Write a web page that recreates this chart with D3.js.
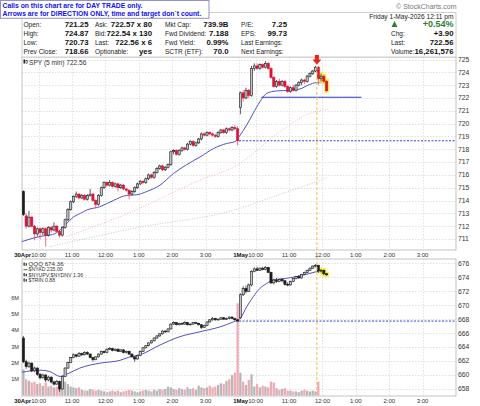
<!DOCTYPE html>
<html>
<head>
<meta charset="utf-8">
<script src="https://cdn.jsdelivr.net/npm/d3@7"></script>
<style>
  body { margin: 0; background: #fff; }
  svg text { font-family: "Liberation Sans", Arial, sans-serif; }
</style>
</head>
<body>
<svg id="chart" width="480" height="406"></svg>
<script>
// ---- data ----
const dayLabels = ['30Apr', '1May'];
const hourLabels = ['10:00', '11:00', '12:00', '1:00', '2:00', '3:00'];
const spyTicks = [711, 712, 713, 714, 715, 716, 717, 718, 719, 720, 721, 722, 723, 724, 725];
const qqqTicks = [658, 660, 662, 664, 666, 668, 670, 672, 674, 676];
const volTicks = [1, 2, 3, 4, 5, 6];

// SPY 5 min bars [open, high, low, close]
const spyDay1 = [
  [714.7, 714.8, 712.8, 712.9], [712.8, 713.0, 711.8, 712.0], [712.0, 713.2, 711.9, 712.7], [712.7, 712.8, 711.9, 712.0],
  [712.0, 712.1, 710.9, 711.4], [711.4, 711.9, 711.2, 711.8], [711.8, 711.9, 711.0, 711.5], [711.5, 711.9, 711.3, 711.8],
  [711.8, 711.9, 710.4, 711.3], [711.3, 712.0, 711.2, 711.9], [711.9, 712.0, 711.5, 711.7], [711.7, 712.3, 711.6, 712.0],
  [712.0, 712.1, 711.5, 711.6], [711.6, 711.7, 711.1, 711.3], [711.3, 712.0, 711.2, 711.9], [711.9, 712.6, 711.8, 712.5],
  [712.5, 713.4, 712.4, 713.3], [713.3, 714.0, 713.2, 713.9], [713.9, 714.4, 713.8, 714.3], [714.3, 714.7, 714.2, 714.5],
  [714.5, 714.6, 714.1, 714.2], [714.2, 714.5, 714.1, 714.4], [714.4, 714.5, 714.0, 714.1], [714.1, 714.5, 714.0, 714.4],
  [714.4, 714.9, 714.3, 714.5], [714.5, 714.6, 713.9, 714.0], [714.0, 714.1, 713.4, 713.7], [713.7, 714.5, 713.6, 714.4],
  [714.4, 715.1, 714.3, 715.0], [715.0, 715.5, 714.9, 715.4], [715.4, 715.5, 715.1, 715.2], [715.2, 715.6, 715.1, 715.4],
  [715.4, 715.5, 715.0, 715.1], [715.1, 715.4, 715.0, 715.3], [715.3, 715.4, 714.7, 715.0], [715.0, 715.3, 714.9, 715.2],
  [715.2, 715.3, 714.8, 714.9], [714.9, 715.0, 714.7, 714.8], [714.8, 714.9, 714.1, 714.5], [714.5, 714.8, 714.4, 714.7],
  [714.7, 715.1, 714.6, 715.0], [715.0, 715.4, 714.9, 715.3], [715.3, 715.6, 715.2, 715.5], [715.5, 715.6, 715.3, 715.4],
  [715.4, 715.8, 715.3, 715.7], [715.7, 716.1, 715.6, 716.0], [716.0, 716.1, 715.7, 715.8], [715.8, 716.3, 715.7, 716.2],
  [716.2, 716.6, 716.1, 716.5], [716.5, 716.8, 716.4, 716.7], [716.7, 716.8, 716.3, 716.4], [716.4, 716.7, 716.3, 716.6],
  [716.6, 716.9, 716.5, 716.8], [716.8, 717.9, 716.7, 717.8], [717.8, 718.0, 717.6, 717.9], [717.9, 718.0, 717.5, 717.6],
  [717.6, 718.0, 717.5, 717.9], [717.9, 718.2, 717.8, 718.1], [718.1, 718.2, 717.9, 718.0], [718.0, 718.5, 717.9, 718.4],
  [718.4, 718.7, 718.3, 718.6], [718.6, 718.7, 718.2, 718.3], [718.3, 718.6, 718.2, 718.5], [718.5, 718.9, 718.4, 718.8],
  [718.8, 719.3, 718.7, 719.2], [719.2, 719.3, 719.0, 719.1], [719.1, 719.4, 719.0, 719.3], [719.3, 719.4, 719.1, 719.2],
  [719.2, 719.3, 719.0, 719.1], [719.1, 719.2, 718.9, 719.0], [719.0, 719.4, 718.9, 719.3], [719.3, 719.6, 719.2, 719.5],
  [719.5, 719.6, 719.2, 719.3], [719.3, 719.7, 719.2, 719.6], [719.6, 719.7, 719.4, 719.5], [719.5, 719.8, 719.4, 719.7],
  [719.7, 719.9, 719.5, 719.6], [719.6, 719.8, 718.3, 718.66]
];
const spyDay2 = [
  [721.25, 722.5, 720.73, 722.4], [722.4, 722.6, 721.7, 722.0], [722.0, 722.8, 721.9, 722.6], [722.6, 722.7, 722.0, 722.2],
  [722.2, 724.5, 722.1, 724.3], [724.3, 724.7, 724.1, 724.5], [724.5, 724.7, 724.2, 724.3], [724.3, 724.7, 724.2, 724.6],
  [724.6, 724.7, 724.3, 724.4], [724.4, 724.87, 724.3, 724.7], [724.7, 724.8, 724.2, 724.3], [724.3, 724.4, 723.5, 723.6],
  [723.6, 723.7, 722.8, 722.9], [722.9, 723.4, 722.8, 723.3], [723.3, 723.5, 722.9, 723.0], [723.0, 723.4, 722.9, 723.3],
  [723.3, 723.4, 722.8, 722.9], [722.9, 723.0, 722.4, 722.5], [722.5, 722.9, 722.4, 722.8], [722.8, 723.0, 722.5, 722.6],
  [722.6, 723.1, 722.5, 723.0], [723.0, 723.3, 722.9, 723.2], [723.2, 723.5, 723.0, 723.4], [723.4, 723.5, 723.1, 723.3],
  [723.3, 723.8, 723.2, 723.7], [723.7, 724.0, 723.6, 723.9], [723.9, 724.2, 723.8, 724.1], [724.1, 724.5, 724.0, 724.4],
  [724.4, 724.5, 723.0, 723.5], [723.5, 723.9, 723.3, 723.7], [723.7, 723.8, 723.2, 723.3], [723.3, 723.4, 722.5, 722.56]
];

// QQQ 5 min bars [open, high, low, close]
const qqqDay1 = [
  [665.3, 665.6, 661.7, 661.9], [661.9, 662.2, 660.9, 661.2], [661.2, 661.9, 661.0, 661.7], [661.7, 661.8, 660.4, 660.6],
  [660.6, 661.2, 660.4, 661.0], [661.0, 661.1, 659.9, 660.1], [660.1, 660.3, 659.4, 659.6], [659.6, 660.2, 659.5, 660.0],
  [660.0, 660.1, 659.0, 659.3], [659.3, 659.9, 659.1, 659.7], [659.7, 659.8, 658.8, 659.0], [659.0, 659.2, 658.5, 658.7],
  [658.7, 659.3, 658.6, 659.1], [659.1, 659.2, 657.6, 658.0], [658.0, 659.9, 657.9, 659.8], [659.8, 661.1, 659.7, 661.0],
  [661.0, 661.9, 660.9, 661.8], [661.8, 662.6, 661.7, 662.5], [662.5, 663.1, 662.4, 662.9], [662.9, 663.0, 662.5, 662.7],
  [662.7, 663.3, 662.6, 663.1], [663.1, 663.2, 662.7, 662.9], [662.9, 663.4, 662.8, 663.2], [663.2, 663.4, 662.9, 663.0],
  [663.0, 663.1, 662.4, 662.5], [662.5, 662.6, 661.9, 662.2], [662.2, 662.7, 662.1, 662.6], [662.6, 663.1, 662.5, 663.0],
  [663.0, 663.5, 662.9, 663.4], [663.4, 663.5, 663.1, 663.2], [663.2, 663.8, 663.1, 663.7], [663.7, 664.0, 663.6, 663.8],
  [663.8, 663.9, 663.4, 663.5], [663.5, 663.8, 663.4, 663.7], [663.7, 663.8, 663.3, 663.4], [663.4, 663.7, 663.3, 663.6],
  [663.6, 663.7, 663.1, 663.2], [663.2, 663.5, 663.1, 663.4], [663.4, 663.5, 662.9, 663.0], [663.0, 663.1, 662.5, 662.6],
  [662.6, 662.7, 661.9, 662.3], [662.3, 662.9, 662.2, 662.8], [662.8, 663.5, 662.7, 663.4], [663.4, 664.0, 663.3, 663.9],
  [663.9, 664.3, 663.8, 664.2], [664.2, 664.7, 664.1, 664.6], [664.6, 665.0, 664.5, 664.9], [664.9, 665.4, 664.8, 665.3],
  [665.3, 665.7, 665.2, 665.6], [665.6, 666.0, 665.5, 665.9], [665.9, 666.4, 665.8, 666.3], [666.3, 666.4, 666.0, 666.2],
  [666.2, 666.7, 666.1, 666.6], [666.6, 667.4, 666.5, 667.3], [667.3, 667.7, 667.2, 667.5], [667.5, 667.6, 667.1, 667.2],
  [667.2, 667.5, 667.1, 667.4], [667.4, 667.5, 667.2, 667.3], [667.3, 667.7, 667.2, 667.5], [667.5, 667.6, 667.1, 667.2],
  [667.2, 667.4, 667.1, 667.3], [667.3, 667.6, 667.2, 667.5], [667.5, 667.6, 667.3, 667.4], [667.4, 667.5, 667.1, 667.2],
  [667.2, 667.3, 666.6, 666.8], [666.8, 667.2, 666.7, 667.1], [667.1, 667.7, 667.0, 667.6], [667.6, 668.0, 667.5, 667.9],
  [667.9, 668.3, 667.8, 668.1], [668.1, 668.2, 667.8, 667.9], [667.9, 668.1, 667.8, 668.0], [668.0, 668.3, 667.9, 668.2],
  [668.2, 668.3, 667.9, 668.0], [668.0, 668.2, 667.9, 668.1], [668.1, 668.4, 668.0, 668.3], [668.3, 668.4, 668.0, 668.1],
  [668.1, 668.2, 667.8, 667.9], [667.9, 668.0, 667.6, 667.73]
];
const qqqDay2 = [
  [668.2, 671.7, 668.0, 671.5], [671.5, 672.7, 671.3, 672.4], [672.4, 672.8, 671.7, 672.0], [672.0, 673.1, 671.9, 672.9],
  [672.9, 675.0, 672.7, 674.8], [674.8, 675.4, 674.7, 675.2], [675.2, 675.5, 674.9, 675.0], [675.0, 675.4, 674.9, 675.3],
  [675.3, 675.5, 675.0, 675.1], [675.1, 675.6, 675.0, 675.4], [675.4, 675.5, 674.6, 674.7], [674.7, 674.8, 673.0, 673.2],
  [673.2, 673.8, 673.0, 673.6], [673.6, 673.9, 673.2, 673.4], [673.4, 673.8, 673.3, 673.7], [673.7, 673.9, 673.3, 673.5],
  [673.5, 673.6, 672.8, 673.0], [673.0, 673.3, 672.7, 672.9], [672.9, 673.5, 672.8, 673.4], [673.4, 673.9, 673.3, 673.8],
  [673.8, 674.2, 673.7, 674.1], [674.1, 674.3, 673.8, 673.9], [673.9, 674.5, 673.8, 674.4], [674.4, 674.8, 674.3, 674.7],
  [674.7, 675.1, 674.6, 675.0], [675.0, 675.4, 674.9, 675.3], [675.3, 675.7, 675.2, 675.6], [675.6, 675.9, 675.4, 675.7],
  [675.7, 675.8, 674.6, 674.9], [674.9, 675.2, 674.7, 675.0], [675.0, 675.1, 674.3, 674.5], [674.5, 674.6, 674.2, 674.36]
];

// volume, millions
const volDay1 = [
  1.6, 1.0, 0.9, 0.8, 0.85, 0.7, 0.75, 0.6, 0.8, 0.55, 0.6, 0.5, 0.55, 0.6, 0.9, 0.85, 0.7, 0.55, 0.5, 0.45,
  0.5, 0.35, 0.3, 0.3, 0.4, 0.35, 0.3, 0.35, 0.3, 0.25, 0.2, 0.25, 0.3, 0.25, 0.3, 0.2, 0.25, 0.3, 0.35, 0.3,
  0.25, 0.2, 0.25, 0.3, 0.35, 0.3, 0.25, 0.35, 0.3, 0.4, 0.35, 0.4, 0.55, 0.5, 0.4, 0.35, 0.45, 0.4, 0.35, 0.5,
  0.4, 0.45, 0.35, 0.6, 0.5, 0.45, 0.5, 0.6, 0.5, 0.55, 0.65, 0.75, 0.7, 0.9, 1.0, 1.25, 1.4, 5.66
];
const volDay2 = [
  1.4, 0.85, 0.65, 0.95, 1.3, 0.55, 0.7, 0.5, 0.6, 0.55, 0.5, 0.85, 0.8, 0.45, 0.35, 0.4, 0.45, 0.3, 0.3, 0.25,
  0.25, 0.2, 0.3, 0.35, 0.3, 0.25, 0.3, 0.25, 0.85
];

// moving averages read as [bar position, price]
const spyMA = [[0, 710.8], [6.5, 711.2], [11, 711.35], [13.7, 711.7], [16, 712.2], [18.4, 712.7], [21, 713.0],
  [23.3, 713.26], [28, 713.52], [32.8, 714.0], [37.6, 714.4], [41.2, 714.45], [44.8, 714.7], [49.6, 715.2],
  [54.4, 716.1], [59.2, 716.8], [64, 717.4], [68.8, 718.05], [73.6, 718.45], [76.6, 718.6], [78.4, 719.1],
  [80.8, 719.9], [83.1, 720.8], [85.5, 721.7], [87.9, 722.35], [91.5, 722.55], [96.3, 722.6], [99.9, 722.7],
  [102.9, 723.0], [105.9, 723.2], [108.3, 723.2], [109.7, 723.0]];
const spyMA50 = [[16, 711.2], [37, 712.9], [64, 715.6], [78.4, 716.9], [84.4, 717.9], [90.3, 719.0],
  [96.3, 719.9], [102.3, 720.7], [110, 721.1]];
const spyMA200 = [[10, 710.4], [40, 711.83], [78.4, 713.39], [90.3, 714.3], [102.3, 715.2], [110, 715.8]];
const qqqMA = [[0, 660.4], [6.5, 660.7], [10, 660.5], [13.7, 659.8], [16, 660.1], [20.8, 661.0], [28, 661.7],
  [35.2, 662.1], [38.8, 662.6], [42.4, 662.9], [49.6, 664.3], [56.8, 665.5], [64, 666.2], [71.2, 666.9],
  [75.9, 667.6], [78.4, 668.1], [80.8, 669.8], [83.1, 671.2], [85.5, 672.4], [87.9, 673.1], [90.3, 673.6],
  [95.1, 673.85], [101.1, 674.3], [105.9, 674.8], [109.1, 674.9]];

const spyPrevClose = 718.66;
const qqqPrevClose = 667.73;
const supportLevel = { price: 722.05, from: 86, to: 122 };
const callBar = 106;
const highlightBars = [107, 108, 109];

// quote header
const quoteCols = [
  { labels: ['Open:', 'High:', 'Low:', 'Prev Close:'], values: ['721.25', '724.87', '720.73', '718.66'] },
  { labels: ['Ask:', 'Bid:', 'Last:', 'Optionable:'], values: ['722.57 x 80', '722.54 x 130', '722.56 x 6', 'yes'] },
  { labels: ['Mkt Cap:', 'Fwd Dividend:', 'Fwd Yield:', 'SCTR (ETF):'], values: ['739.9B', '7.188', '0.99%', '70.0'] },
  { labels: ['P/E:', 'EPS:', 'Last Earnings:', 'Next Earnings:'], values: ['7.25', '99.73', '', ''] },
  { labels: ['', 'Chg:', 'Last:', 'Volume:'], values: ['+0.54%', '+3.90', '722.56', '16,261,576'] }
];
const quoteDate = 'Friday  1-May-2026  12:11 pm';
const noteLines = ['Calls on this chart are for DAY TRADE only.', 'Arrows are for DIRECTION ONLY, time and target don`t count.'];
const spyLegend = 'SPY (5 min) 722.56';
const lowerLegend = ['QQQ 674.36', '$NYAD 235.00', '$NYUPV:$NYDNV 1.36', '$TRIN 0.88'];

// ---- layout ----
const svg = d3.select('#chart');
const left = 22, right = 456;
const upper = { top: 57, bottom: 250 };
const lower = { top: 259, bottom: 396 };
const barsPerDay = 78;

const x = d3.scaleLinear().domain([0, 156]).range([left, right]);
const bw = x(1) - x(0);
const ySpy = d3.scaleLinear().domain([711, 725]).range([239, 59.5]);
const yQqq = d3.scaleLinear().domain([658, 676]).range([389, 263.3]);
const yVol = d3.scaleLinear().domain([0, 6]).range([395.5, 297.7]);

const defs = svg.append('defs');
[['clipUpper', upper], ['clipLower', lower]].forEach(([id, p]) => {
  defs.append('clipPath').attr('id', id).append('rect')
    .attr('x', left).attr('y', p.top).attr('width', right - left).attr('height', p.bottom - p.top);
});

// hour ticks
const hourTicks = [];
dayLabels.forEach((day, di) => {
  hourLabels.forEach((label, hi) => {
    hourTicks.push({ idx: di * barsPerDay + 6 + hi * 12, label, day: hi === 0 ? day : null });
  });
});

const gridColor = '#d4d4d4';

function panel(p, yScale, ticks, clipId) {
  svg.append('rect')
    .attr('x', left).attr('y', p.top)
    .attr('width', right - left).attr('height', p.bottom - p.top)
    .attr('fill', '#fff').attr('stroke', '#b4b4b4').attr('stroke-width', 0.8);
  const g = svg.append('g').attr('clip-path', `url(#${clipId})`);
  g.selectAll('.hgrid').data(ticks).enter().append('line')
    .attr('x1', left).attr('x2', right)
    .attr('y1', d => Math.round(yScale(d)) + 0.5).attr('y2', d => Math.round(yScale(d)) + 0.5)
    .attr('stroke', gridColor).attr('stroke-width', 0.7).attr('stroke-dasharray', '1.5,1.5');
  g.selectAll('.vgrid').data(hourTicks.map(d => d.idx).concat([barsPerDay])).enter().append('line')
    .attr('x1', d => Math.round(x(d)) + 0.5).attr('x2', d => Math.round(x(d)) + 0.5)
    .attr('y1', p.top).attr('y2', p.bottom)
    .attr('stroke', gridColor).attr('stroke-width', 0.7).attr('stroke-dasharray', '1.5,1.5');
  svg.selectAll(null).data(ticks).enter().append('text')
    .attr('x', 458).attr('y', d => yScale(d)).attr('dy', '0.35em')
    .attr('font-size', 6.8).attr('fill', '#333')
    .text(d => d);
  return g;
}

function timeAxis(yPos) {
  const g = svg.append('g');
  hourTicks.forEach(t => {
    const tx = x(t.idx);
    const lab = g.append('text').attr('x', tx).attr('y', yPos)
      .attr('text-anchor', 'middle').attr('font-size', 6).attr('fill', '#333').text(t.label);
    if (t.day) {
      const w = lab.node().getComputedTextLength();
      g.append('text').attr('x', tx - w / 2).attr('y', yPos)
        .attr('text-anchor', 'end').attr('font-size', 6).attr('font-weight', 'bold').attr('fill', '#111')
        .text(t.day);
    }
  });
}

function candles(g, bars, yScale, twoColor) {
  const data = bars.map(([o, h, l, c], i) => ({ i, o, h, l, c, down: twoColor && i > 0 && c < bars[i - 1][3] }));
  const red = '#d9143a', black = '#1c1c1c';
  // yellow glow behind the latest bars
  g.selectAll(null).data(data.filter(d => highlightBars.includes(d.i))).enter().append('rect')
    .attr('x', d => x(d.i + 0.5) - 2.6).attr('width', 5.2)
    .attr('y', d => yScale(d.h) - 1.5).attr('height', d => yScale(d.l) - yScale(d.h) + 3)
    .attr('rx', 1.5).attr('fill', '#f6f23c').attr('opacity', 0.9);
  g.selectAll(null).data(data).enter().append('line')
    .attr('x1', d => x(d.i + 0.5)).attr('x2', d => x(d.i + 0.5))
    .attr('y1', d => yScale(d.h)).attr('y2', d => yScale(d.l))
    .attr('stroke', d => d.down ? '#e4506a' : '#333').attr('stroke-width', 0.8);
  g.selectAll(null).data(data).enter().append('rect')
    .attr('x', d => x(d.i + 0.5) - 1.1).attr('width', 2.2)
    .attr('y', d => yScale(Math.max(d.o, d.c)))
    .attr('height', d => Math.max(0.8, Math.abs(yScale(d.o) - yScale(d.c))))
    .attr('fill', d => d.c >= d.o ? (d.down ? '#f6c2cc' : '#c6c6c6') : (d.down ? red : black))
    .attr('stroke', d => d.down ? red : black).attr('stroke-width', 0.6);
}

const maLine = yScale => d3.line().x(d => x(d[0])).y(d => yScale(d[1])).curve(d3.curveMonotoneX);

// ---- upper panel: SPY ----
const spyBars = spyDay1.concat(spyDay2);
const gU = panel(upper, ySpy, spyTicks, 'clipUpper');
gU.append('path').datum(spyMA200).attr('d', maLine(ySpy))
  .attr('fill', 'none').attr('stroke', '#a9c9a2').attr('stroke-width', 0.8).attr('stroke-dasharray', '1,1.5');
gU.append('path').datum(spyMA50).attr('d', maLine(ySpy))
  .attr('fill', 'none').attr('stroke', '#efa6b6').attr('stroke-width', 0.8).attr('stroke-dasharray', '1,1.5');
gU.append('line')
  .attr('x1', x(barsPerDay)).attr('x2', right)
  .attr('y1', ySpy(spyPrevClose)).attr('y2', ySpy(spyPrevClose))
  .attr('stroke', '#3340e8').attr('stroke-width', 1).attr('stroke-dasharray', '2,1.5');
gU.append('path').datum(spyMA).attr('d', maLine(ySpy))
  .attr('fill', 'none').attr('stroke', '#5252c8').attr('stroke-width', 1);
candles(gU, spyBars, ySpy, true);
gU.append('line')
  .attr('x1', x(supportLevel.from)).attr('x2', x(supportLevel.to))
  .attr('y1', ySpy(supportLevel.price)).attr('y2', ySpy(supportLevel.price))
  .attr('stroke', '#2a36d0').attr('stroke-width', 1.1);

// ---- lower panel: QQQ + volume ----
const qqqBars = qqqDay1.concat(qqqDay2);
const vols = volDay1.concat(volDay2);
const gL = panel(lower, yQqq, qqqTicks, 'clipLower');
gL.selectAll(null).data(vols).enter().append('rect')
  .attr('x', (d, i) => x(i) + 0.25).attr('width', bw - 0.5)
  .attr('y', d => yVol(d)).attr('height', d => yVol(0) - yVol(d))
  .attr('fill', (d, i) => i > 0 && spyBars[i][3] < spyBars[i - 1][3] ? '#efaab5' : '#b7b7b7');
gL.append('line')
  .attr('x1', x(barsPerDay)).attr('x2', right)
  .attr('y1', yQqq(qqqPrevClose)).attr('y2', yQqq(qqqPrevClose))
  .attr('stroke', '#3340e8').attr('stroke-width', 1).attr('stroke-dasharray', '2,1.5');
gL.append('path').datum(qqqMA).attr('d', maLine(yQqq))
  .attr('fill', 'none').attr('stroke', '#5252c8').attr('stroke-width', 1);
candles(gL, qqqBars, yQqq, false);

svg.selectAll(null).data(volTicks).enter().append('text')
  .attr('x', 19).attr('y', d => yVol(d)).attr('dy', '0.35em')
  .attr('text-anchor', 'end').attr('font-size', 5.6).attr('fill', '#333')
  .text(d => d + 'M');

timeAxis(257);
timeAxis(403);

// call marker
svg.append('line')
  .attr('x1', x(callBar)).attr('x2', x(callBar))
  .attr('y1', upper.top).attr('y2', lower.bottom)
  .attr('stroke', '#f6b84a').attr('stroke-width', 1).attr('stroke-dasharray', '3,2');

// ---- quote header ----
svg.append('rect').attr('x', left).attr('y', 12.5).attr('width', right - left).attr('height', upper.top - 12.5)
  .attr('fill', '#fff').attr('stroke', '#c4c4c4').attr('stroke-width', 0.8);
const rowY = [27, 36, 45, 54];
const colLabelX = [23.5, 95, 165, 241, 391];
const colValueX = [88.5, 152, 228.5, 287, 453.5];
quoteCols.forEach((col, ci) => {
  col.labels.forEach((lab, ri) => {
    svg.append('text').attr('x', colLabelX[ci]).attr('y', rowY[ri])
      .attr('font-size', 6.5).attr('fill', '#222').text(lab);
    svg.append('text').attr('x', colValueX[ci]).attr('y', rowY[ri])
      .attr('text-anchor', 'end').attr('font-weight', 'bold')
      .attr('font-size', ci === 4 && ri === 0 ? 9 : 7.8)
      .attr('fill', ci === 4 && ri === 0 ? '#2f7d32' : '#111')
      .text(col.values[ri]);
  });
});
svg.append('path').attr('d', 'M391.5,27 L394.5,21 L397.5,27 Z').attr('fill', '#2f7d32');
svg.append('text').attr('x', 453.5).attr('y', 18.5).attr('text-anchor', 'end')
  .attr('font-size', 6.6).attr('fill', '#222').text(quoteDate);
svg.append('text').attr('x', 456.5).attr('y', 8.5).attr('text-anchor', 'end')
  .attr('font-size', 7).attr('fill', '#777').text('\u00a9 StockCharts.com');

// note box
svg.append('rect').attr('x', 0.5).attr('y', 0.5).attr('width', 208.5).attr('height', 17.8)
  .attr('fill', '#fff').attr('stroke', '#8f93c8').attr('stroke-width', 1);
noteLines.forEach((t, i) => {
  svg.append('text').attr('x', 2.5).attr('y', 8 + i * 8.2)
    .attr('font-size', 6.8).attr('font-weight', 'bold').attr('fill', '#1010f0').text(t);
});

// legends
svg.append('rect').attr('x', 23.5).attr('y', 59.5).attr('width', 1.6).attr('height', 4).attr('fill', '#222');
svg.append('rect').attr('x', 26).attr('y', 60.5).attr('width', 1.6).attr('height', 3).attr('fill', '#fff').attr('stroke', '#222').attr('stroke-width', 0.5);
svg.append('text').attr('x', 29).attr('y', 64.5)
  .attr('font-family', '"DejaVu Sans Mono", monospace').attr('font-size', 6.6).attr('fill', '#333').text(spyLegend);
lowerLegend.forEach((t, i) => {
  const ly = 266 + i * 5.3;
  if (i === 1) {
    svg.append('line').attr('x1', 23.5).attr('x2', 27.5).attr('y1', ly - 1.6).attr('y2', ly - 1.6).attr('stroke', '#333').attr('stroke-width', 0.8);
  } else {
    svg.append('rect').attr('x', 23.5).attr('y', ly - 3.5).attr('width', 1.3).attr('height', 3.2).attr('fill', '#333');
    svg.append('rect').attr('x', 25.6).attr('y', ly - 2.8).attr('width', 1.3).attr('height', 2.5).attr('fill', '#333');
  }
  svg.append('text').attr('x', 28.5).attr('y', ly)
    .attr('font-family', '"DejaVu Sans", sans-serif').attr('font-size', i === 0 ? 6.2 : 5.2).attr('fill', '#333').text(t);
});

// red direction arrow
const ax = x(callBar);
svg.append('path')
  .attr('d', `M${ax - 2},55 L${ax + 2},55 L${ax + 2},59.5 L${ax + 4.5},59.5 L${ax},64.5 L${ax - 4.5},59.5 L${ax - 2},59.5 Z`)
  .attr('fill', '#ea2418');
</script>
</body>
</html>
